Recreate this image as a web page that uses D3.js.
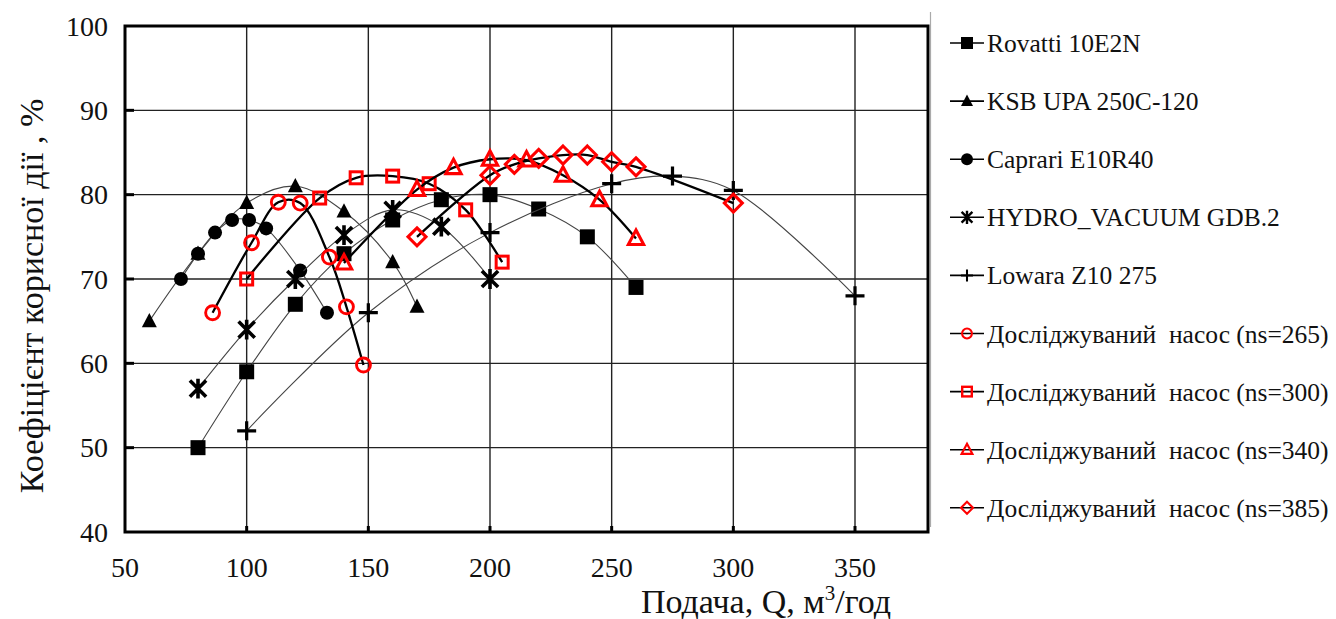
<!DOCTYPE html>
<html>
<head>
<meta charset="utf-8">
<script src="https://cdn.jsdelivr.net/npm/d3@7"></script>
<style>
    body { margin: 0; background: #fff; }
</style>
</head>
<body>
<div id="chart"></div>
<script>
// Q (m3/h) vs efficiency (%)
const rovatti = [[80, 50], [100, 59], [120, 67], [140, 73], [160, 77], [180, 79.4], [200, 80], [220, 78.3], [240, 75], [260, 69]];
const ksb = [[60, 65], [80, 73], [100, 79], [120, 81], [140, 78], [160, 72], [170, 66.7]];
const caprari = [[73, 70], [80, 73], [87, 75.5], [94, 77], [101, 77], [108, 76], [122, 71], [133, 66]];
const hydro = [[80, 57], [100, 64], [120, 70], [140, 75.2], [160, 78.2], [180, 76.2], [200, 70]];
const lowara = [[100, 52], [150, 66], [200, 75.5], [250, 81.3], [275, 82.2], [300, 80.5], [350, 68]];
const ns265 = [[86, 66], [102, 74.3], [113, 79.1], [122, 79], [134, 72.6], [141, 66.7], [148, 59.8]];
const ns300 = [[100, 70], [130, 79.6], [145, 82], [160, 82.2], [175, 81.3], [190, 78.2], [205, 72]];
const ns340 = [[140, 71.9], [170, 80.6], [185, 83.2], [200, 84.2], [215, 84.1], [230, 82.3], [245, 79.4], [260, 74.8]];
const ns385 = [[170, 75], [200, 82.3], [210, 83.6], [220, 84.3], [230, 84.7], [240, 84.7], [250, 83.9], [260, 83.3], [300, 79]];

const xTicks = [50, 100, 150, 200, 250, 300, 350];
const yTicks = [40, 50, 60, 70, 80, 90, 100];

const seriesNames = [
    'Rovatti 10E2N',
    'KSB UPA 250C-120',
    'Caprari E10R40',
    'HYDRO_VACUUM GDB.2',
    'Lowara Z10 275',
    'Досліджуваний  насос (ns=265)',
    'Досліджуваний  насос (ns=300)',
    'Досліджуваний  насос (ns=340)',
    'Досліджуваний  насос (ns=385)'
];
const seriesData = [rovatti, ksb, caprari, hydro, lowara, ns265, ns300, ns340, ns385];
const seriesMarker = ['square', 'triangle', 'circle', 'star', 'plus', 'ocircle', 'osquare', 'otriangle', 'odiamond'];

const W = 1336, H = 619;
const plot = {left: 125, right: 928, top: 26, bottom: 532};
const FONT = "'Liberation Serif', 'Times New Roman', serif";

const svg = d3.select('#chart').append('svg')
    .attr('width', W)
    .attr('height', H)
    .attr('font-family', FONT)
    .style('font-family', FONT);

const x = d3.scaleLinear().domain([50, 380]).range([plot.left, plot.right]);
const y = d3.scaleLinear().domain([40, 100]).range([plot.bottom, plot.top]);

// grid
svg.append('g')
    .selectAll('line')
    .data(xTicks.slice(1))
    .enter().append('line')
    .attr('x1', d => x(d)).attr('x2', d => x(d))
    .attr('y1', plot.top).attr('y2', plot.bottom)
    .attr('stroke', '#222').attr('stroke-width', 1.4);

svg.append('g')
    .selectAll('line')
    .data(yTicks.slice(1, -1))
    .enter().append('line')
    .attr('x1', plot.left).attr('x2', plot.right)
    .attr('y1', d => y(d)).attr('y2', d => y(d))
    .attr('stroke', '#222').attr('stroke-width', 1.4);

// small inward tick marks
svg.append('g')
    .selectAll('line')
    .data(xTicks.slice(1))
    .enter().append('line')
    .attr('x1', d => x(d)).attr('x2', d => x(d))
    .attr('y1', plot.bottom).attr('y2', plot.bottom - 6)
    .attr('stroke', '#000').attr('stroke-width', 3);

svg.append('g')
    .selectAll('line')
    .data(yTicks.slice(1, -1))
    .enter().append('line')
    .attr('x1', plot.left).attr('x2', plot.left + 9)
    .attr('y1', d => y(d)).attr('y2', d => y(d))
    .attr('stroke', '#000').attr('stroke-width', 3);

// frame
svg.append('rect')
    .attr('x', plot.left).attr('y', plot.top)
    .attr('width', plot.right - plot.left)
    .attr('height', plot.bottom - plot.top)
    .attr('fill', 'none')
    .attr('stroke', '#000')
    .attr('stroke-width', 3);

// tick labels
svg.append('g')
    .selectAll('text')
    .data(xTicks)
    .enter().append('text')
    .attr('x', d => x(d))
    .attr('y', 577)
    .attr('text-anchor', 'middle')
    .attr('fill', '#111')
    .style('font-size', '28px')
    .text(d => d);

svg.append('g')
    .selectAll('text')
    .data(yTicks)
    .enter().append('text')
    .attr('x', 108)
    .attr('y', d => y(d) + 9.5)
    .attr('text-anchor', 'end')
    .attr('fill', '#111')
    .style('font-size', '28px')
    .text(d => d);

// axis titles
const xTitle = svg.append('text')
    .attr('x', 766)
    .attr('y', 613)
    .attr('text-anchor', 'middle')
    .attr('fill', '#111')
    .style('font-size', '34px');
xTitle.append('tspan').text('Подача, Q, м');
xTitle.append('tspan').attr('dy', -13).style('font-size', '21px').text('3');
xTitle.append('tspan').attr('dy', 13).text('/год');

svg.append('text')
    .attr('transform', 'translate(43,296) rotate(-90)')
    .attr('text-anchor', 'middle')
    .attr('fill', '#111')
    .style('font-size', '34px')
    .text('Коефіцієнт корисної дії , %');

// markers
function drawMarker(g, type, s) {
    // s = nominal size in px
    const h = s / 2;
    if (type === 'square') {
        g.append('rect').attr('x', -h).attr('y', -h).attr('width', s).attr('height', s).attr('fill', '#000');
    } else if (type === 'triangle') {
        g.append('path').attr('d', `M0,${-h * 1.1}L${h},${h * 0.8}L${-h},${h * 0.8}Z`).attr('fill', '#000');
    } else if (type === 'circle') {
        g.append('circle').attr('r', h).attr('fill', '#000');
    } else if (type === 'star') {
        const a = h * 0.9;
        g.append('path')
            .attr('d', `M${-a},${-a}L${a},${a}M${-a},${a}L${a},${-a}M0,${-h * 1.1}L0,${h * 1.1}`)
            .attr('stroke', '#000').attr('stroke-width', s * 0.2).attr('fill', 'none');
    } else if (type === 'plus') {
        g.append('path')
            .attr('d', `M${-h},0L${h},0M0,${-h}L0,${h}`)
            .attr('stroke', '#000').attr('stroke-width', s * 0.17).attr('fill', 'none');
    } else if (type === 'ocircle') {
        g.append('circle').attr('r', h * 0.82).attr('fill', 'none').attr('stroke', '#f00').attr('stroke-width', s * 0.17);
    } else if (type === 'osquare') {
        const q = h * 0.8;
        g.append('rect').attr('x', -q).attr('y', -q).attr('width', 2 * q).attr('height', 2 * q)
            .attr('fill', 'none').attr('stroke', '#f00').attr('stroke-width', s * 0.2);
    } else if (type === 'otriangle') {
        g.append('path').attr('d', `M0,${-h}L${h * 0.9},${h * 0.7}L${-h * 0.9},${h * 0.7}Z`)
            .attr('fill', 'none').attr('stroke', '#f00').attr('stroke-width', s * 0.18).attr('stroke-linejoin', 'miter');
    } else if (type === 'odiamond') {
        g.append('path').attr('d', `M0,${-h}L${h},0L0,${h}L${-h},0Z`)
            .attr('fill', 'none').attr('stroke', '#f00').attr('stroke-width', s * 0.17);
    }
}

const line = d3.line()
    .x(d => x(d[0]))
    .y(d => y(d[1]))
    .curve(d3.curveCatmullRom.alpha(0.5));

const markerSize = [15, 15, 14, 18, 19, 17, 15, 17, 18];

seriesData.forEach((data, i) => {
    const thick = i >= 5;
    const g = svg.append('g');
    g.append('path')
        .datum(data)
        .attr('d', line)
        .attr('fill', 'none')
        .attr('stroke', thick ? '#000' : '#444')
        .attr('stroke-width', thick ? 2.3 : 1.1);
    g.selectAll('g.pt')
        .data(data)
        .enter().append('g')
        .attr('class', 'pt')
        .attr('transform', d => `translate(${x(d[0])},${y(d[1])})`)
        .each(function() { drawMarker(d3.select(this), seriesMarker[i], markerSize[i]); });
});

// legend
svg.append('line')
    .attr('x1', 930.5).attr('x2', 930.5)
    .attr('y1', 12).attr('y2', 527)
    .attr('stroke', '#aaa').attr('stroke-width', 1.2);

const legend = svg.append('g')
    .selectAll('g')
    .data(seriesNames)
    .enter().append('g')
    .attr('transform', (d, i) => `translate(950,${43 + i * 58.1})`);

legend.append('line')
    .attr('x1', 0).attr('x2', 34)
    .attr('stroke', '#000').attr('stroke-width', 1.6);

legend.append('g')
    .attr('transform', 'translate(17,0)')
    .each(function(d, i) { drawMarker(d3.select(this), seriesMarker[i], 12); });

legend.append('text')
    .attr('x', 37)
    .attr('y', 9)
    .attr('fill', '#111')
    .attr('xml:space', 'preserve')
    .style('white-space', 'pre')
    .style('font-size', '25.5px')
    .text(d => d);
</script>
</body>
</html>
